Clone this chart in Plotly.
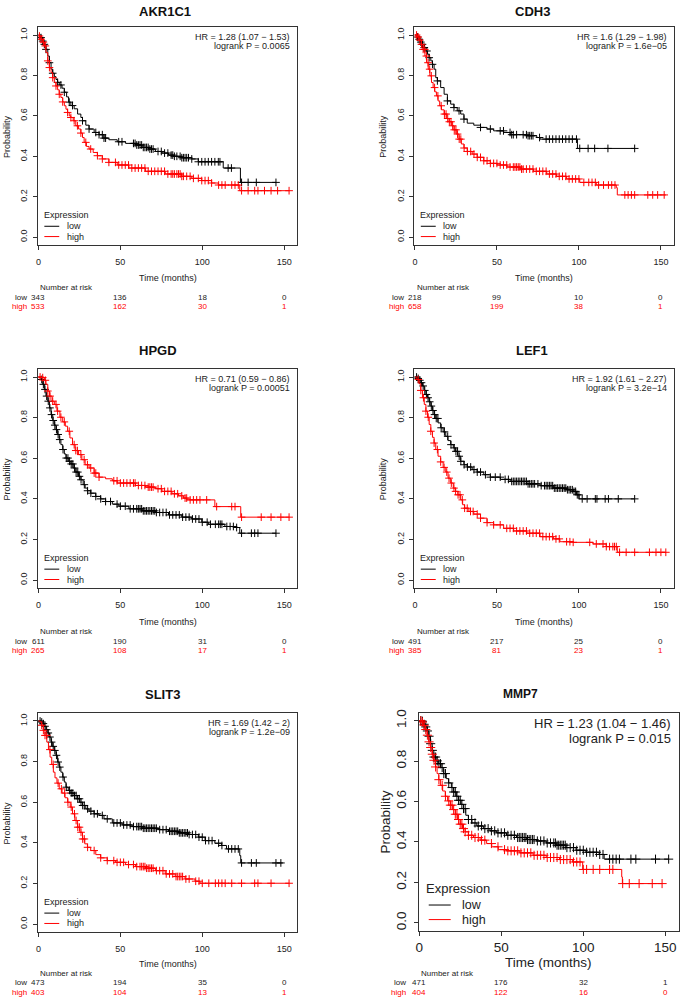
import numpy as np
import plotly.graph_objects as go

W, H = 680, 997
FONT = "Liberation Sans, Arial, sans-serif"
RED = "#ff0000"
BLACK = "#000000"

genes = ["AKR1C1", "CDH3", "HPGD", "LEF1", "SLIT3", "MMP7"]
hr_text = ["HR = 1.28 (1.07 \u2212 1.53)", "HR = 1.6 (1.29 \u2212 1.98)", "HR = 0.71 (0.59 \u2212 0.86)",
           "HR = 1.92 (1.61 \u2212 2.27)", "HR = 1.69 (1.42 \u2212 2)", "HR = 1.23 (1.04 \u2212 1.46)"]
p_text = ["logrank P = 0.0065", "logrank P = 1.6e\u221205", "logrank P = 0.00051",
          "logrank P = 3.2e\u221214", "logrank P = 1.2e\u221209", "logrank P = 0.015"]
risk_times = [0, 50, 100, 150]
risk_low = [[343, 136, 18, 0], [218, 99, 10, 0], [611, 190, 31, 0],
            [491, 217, 25, 0], [473, 194, 35, 0], [471, 176, 32, 1]]
risk_high = [[533, 162, 30, 1], [658, 199, 38, 1], [265, 108, 17, 1],
             [385, 81, 23, 1], [403, 104, 13, 1], [404, 122, 16, 0]]

# ---- Kaplan-Meier step knots (time, survival) ----
akr_low_t = [0, 1.6, 2.6, 3.6, 4.6, 5.7, 6.7, 7.7, 8.7, 9.7, 10.7, 11.7, 12.7, 14.4, 15.8, 17.2, 18.4, 19.8, 21.8, 23.9, 25.9, 26.9, 28.9, 30.9, 34, 37, 40, 43, 48.1, 53.2, 59.2, 63.3, 67.3, 71.4, 75.4, 79.4, 82.5, 87.5, 93.6, 97.6, 112.8, 123.3, 145.1]
akr_low_s = [1, 0.987, 0.970, 0.954, 0.929, 0.896, 0.863, 0.831, 0.811, 0.794, 0.780, 0.766, 0.753, 0.737, 0.717, 0.694, 0.668, 0.651, 0.635, 0.609, 0.592, 0.576, 0.554, 0.535, 0.518, 0.507, 0.490, 0.482, 0.472, 0.464, 0.456, 0.444, 0.436, 0.424, 0.416, 0.406, 0.400, 0.393, 0.387, 0.373, 0.342, 0.271, 0.271]
akr_high_t = [0, 0.6, 1.6, 2.6, 3.6, 4.6, 5.7, 6.7, 7.7, 8.7, 9.7, 10.7, 11.7, 12.7, 13.7, 14.8, 15.8, 16.8, 17.8, 18.8, 19.8, 21.2, 22.8, 24.5, 25.9, 26.9, 27.9, 29.3, 30.9, 33.4, 36, 39, 43, 48.1, 55.2, 65.3, 77.4, 87.5, 93.6, 99.7, 105.7, 109.8, 122.9, 153.2]
akr_high_s = [1, 0.995, 0.979, 0.965, 0.946, 0.913, 0.872, 0.839, 0.814, 0.789, 0.765, 0.748, 0.729, 0.707, 0.691, 0.669, 0.650, 0.633, 0.617, 0.600, 0.592, 0.576, 0.551, 0.535, 0.515, 0.493, 0.469, 0.449, 0.436, 0.419, 0.403, 0.387, 0.370, 0.357, 0.342, 0.326, 0.3125, 0.301, 0.291, 0.280, 0.268, 0.258, 0.230, 0.230]
akr_low_c = [1.6, 2.6, 3.6, 4.6, 6.7, 8.7, 11.7, 13.7, 15.8, 18.8, 20.8, 26.9, 30.9, 35, 37, 39, 40, 41, 49, 51, 58, 59, 60, 61, 62, 63, 64, 65, 66, 67, 68, 69, 70, 73, 75, 77, 79, 81, 82, 83, 84.5, 86.5, 87.5, 88.5, 89.5, 90.5, 91.6, 93.6, 97.6, 99.7, 101.7, 103.7, 105.7, 107.7, 109.8, 110.8, 115.8, 117.8, 124, 128, 133, 145]
akr_high_c = [0.6, 1.6, 3, 4.2, 5.7, 6.7, 8.7, 10.7, 12.7, 14.8, 17.8, 19.8, 21.8, 23.8, 25.9, 28.9, 31.9, 36, 39, 43, 47, 49, 51, 53, 55, 57, 59, 61, 63, 65, 67, 69, 71, 73, 75, 77, 79, 81, 82, 83, 84.5, 85.5, 86.5, 87.5, 88.5, 90.5, 92.6, 94.6, 97.6, 99.7, 101.7, 103.7, 105.7, 110, 112, 114, 118, 120, 122, 124, 128, 132, 134, 138, 142, 146, 153]

cdh_low_t = [0, 1.6, 2.6, 3.6, 4.6, 5.7, 6.7, 7.7, 8.7, 9.7, 10.7, 11.7, 12.7, 13.7, 15.7, 17.8, 19.8, 21.8, 23.8, 25.8, 27.9, 29.9, 31.9, 35.9, 40, 44, 48, 54.1, 58.1, 68.2, 74.3, 76.3, 99.1, 133.9]
cdh_low_s = [1, 0.990, 0.979, 0.965, 0.954, 0.938, 0.921, 0.905, 0.888, 0.872, 0.855, 0.831, 0.789, 0.773, 0.740, 0.707, 0.674, 0.658, 0.641, 0.625, 0.609, 0.584, 0.564, 0.554, 0.543, 0.535, 0.526, 0.518, 0.507, 0.502, 0.493, 0.485, 0.439, 0.439]
cdh_high_t = [0, 1.6, 3, 4, 5, 6.1, 7.1, 8.1, 9.1, 10.1, 11.1, 12.1, 13.1, 14.1, 15.1, 16.2, 17.8, 19.4, 20.8, 22.4, 23.8, 25.2, 26.9, 28.3, 29.9, 31.9, 34.9, 38, 42, 46, 50.1, 56.1, 64.2, 72.3, 80.4, 86.4, 92.5, 100.5, 110.6, 122.8, 123.4, 153]
cdh_high_s = [1, 0.990, 0.975, 0.954, 0.929, 0.896, 0.863, 0.831, 0.798, 0.765, 0.740, 0.719, 0.699, 0.674, 0.650, 0.630, 0.609, 0.587, 0.571, 0.551, 0.531, 0.510, 0.485, 0.461, 0.441, 0.424, 0.411, 0.395, 0.378, 0.365, 0.357, 0.347, 0.337, 0.326, 0.3125, 0.301, 0.288, 0.271, 0.258, 0.245, 0.209, 0.209]
cdh_low_c = [1.6, 2.6, 3.6, 4.6, 5.7, 7.3, 8.7, 10.7, 13.7, 19.8, 23.8, 26.9, 29.9, 40, 46, 52, 54, 58, 59, 60, 62, 66, 68, 69, 70, 71, 72, 76, 80, 82, 84, 86, 88, 90, 92, 94, 96, 98.5, 100.5, 105.6, 109.6, 117.7, 134]
cdh_high_c = [1, 2, 3, 4, 5, 6, 7, 8, 9, 10, 12, 14, 16, 18, 19, 20, 21, 22, 23, 24, 25, 26, 27, 28, 30, 32, 34, 36, 38, 40, 42, 44, 46, 48, 50, 52, 54, 56, 58, 60, 61, 62, 63, 64, 65, 66, 68, 70, 72, 74, 76, 78, 80, 82, 84, 86, 88, 90, 92, 94, 96, 98, 100, 103, 106, 108, 110, 112, 115, 118, 120, 122, 128, 130, 132, 134, 142, 145, 148, 152]

hpgd_low_t = [0, 1.6, 2.6, 3.6, 4.6, 5.7, 6.7, 7.7, 8.7, 9.7, 10.7, 11.7, 12.7, 13.7, 14.8, 15.8, 16.8, 18.2, 19.8, 21.2, 22.8, 24.5, 25.9, 27.3, 28.5, 29.9, 31.9, 35, 38, 41, 45.1, 49.1, 55.2, 63.3, 71.4, 79.4, 87.5, 93.6, 99.7, 103.7, 113.8, 119.9, 122.9, 145.1]
hpgd_low_s = [1, 0.988, 0.964, 0.939, 0.906, 0.881, 0.848, 0.815, 0.786, 0.763, 0.741, 0.717, 0.692, 0.667, 0.643, 0.621, 0.601, 0.585, 0.572, 0.552, 0.532, 0.511, 0.494, 0.470, 0.453, 0.440, 0.428, 0.412, 0.400, 0.387, 0.374, 0.364, 0.351, 0.341, 0.333, 0.321, 0.310, 0.301, 0.285, 0.275, 0.264, 0.259, 0.231, 0.231]
hpgd_high_t = [0, 1.6, 3.6, 4.6, 5.7, 6.7, 8.3, 9.7, 11.3, 13.1, 14.8, 16.4, 17.8, 19.2, 20.8, 22.4, 24.5, 26.5, 28.5, 30.9, 34, 37, 41, 45.1, 48.1, 59.2, 65.3, 71.4, 75.4, 81.5, 85.5, 88.5, 90.6, 107.7, 123.5, 153.2]
hpgd_high_s = [1, 0.997, 0.984, 0.964, 0.931, 0.906, 0.881, 0.865, 0.832, 0.802, 0.779, 0.758, 0.733, 0.700, 0.667, 0.638, 0.618, 0.593, 0.568, 0.552, 0.527, 0.507, 0.499, 0.489, 0.478, 0.466, 0.458, 0.450, 0.437, 0.425, 0.415, 0.404, 0.395, 0.362, 0.310, 0.310]
hpgd_low_c = [2, 3, 4, 5, 6, 7, 8, 9, 10, 11, 12, 13, 15, 17, 18, 19, 20, 21, 22, 23, 24, 25, 26, 28, 30, 32, 35, 38, 41, 44, 48, 50, 53, 56, 58, 60, 61, 62, 63, 64, 65, 66, 67, 68, 69, 70, 71, 72, 74, 76, 78, 80, 82, 84, 86, 88, 90, 92, 94, 96, 98, 100, 103, 105, 108, 110, 111, 112, 115, 117, 119, 121, 124, 130, 132, 134, 145]
hpgd_high_c = [1, 2.6, 4.2, 5.7, 7.1, 8.7, 10.7, 11.7, 13.7, 15.8, 18.8, 21.8, 22.8, 23.8, 25.9, 27.9, 29.9, 31.9, 34, 35, 37, 46, 48, 50, 52, 54, 56, 58, 59, 61, 63, 65, 67, 68, 69, 70, 73, 75, 77, 79, 81, 83, 85, 87.5, 89.5, 90.5, 92.6, 94.6, 96.6, 98.6, 102.7, 108.8, 118, 120, 124, 136, 142, 148, 153]

lef_low_t = [0, 1.6, 2.6, 3.6, 4.6, 5.7, 6.7, 7.7, 8.7, 9.7, 10.7, 11.7, 12.7, 14.1, 15.7, 17.2, 18.8, 20.2, 21.8, 23.4, 24.8, 26.2, 27.9, 29.9, 31.9, 34.9, 38, 42, 46, 52.1, 58.1, 68.2, 76.3, 84.4, 92.5, 96.5, 98.5, 100.1, 133.9]
lef_low_s = [1, 0.993, 0.984, 0.972, 0.956, 0.934, 0.914, 0.898, 0.878, 0.857, 0.835, 0.815, 0.796, 0.774, 0.750, 0.730, 0.708, 0.687, 0.667, 0.651, 0.634, 0.610, 0.585, 0.568, 0.557, 0.544, 0.532, 0.519, 0.507, 0.496, 0.486, 0.474, 0.465, 0.453, 0.445, 0.437, 0.420, 0.400, 0.400]
lef_high_t = [0, 1.2, 2.6, 3.6, 4.6, 5.7, 6.7, 7.7, 8.7, 9.7, 10.7, 11.7, 12.7, 14.1, 15.7, 17.2, 18.8, 20.2, 21.8, 23.4, 24.8, 26.2, 27.9, 29.1, 30.3, 32.9, 35.9, 40, 44, 48, 54.1, 60.2, 68.2, 76.3, 84.4, 88.4, 96.5, 108.6, 116.7, 123.4, 153]
lef_high_s = [1, 0.988, 0.967, 0.934, 0.898, 0.865, 0.832, 0.802, 0.766, 0.733, 0.703, 0.675, 0.643, 0.610, 0.582, 0.555, 0.532, 0.502, 0.478, 0.453, 0.437, 0.420, 0.395, 0.371, 0.354, 0.338, 0.325, 0.305, 0.283, 0.272, 0.255, 0.242, 0.231, 0.214, 0.203, 0.189, 0.186, 0.178, 0.165, 0.137, 0.137]
lef_low_c = [1, 2, 3, 4, 5, 6, 7, 8, 9, 10, 11, 12, 13, 14, 16, 18, 20, 22, 24, 25, 26, 27, 28, 30, 32, 34, 36, 38, 40, 43, 46, 49, 52, 55, 57, 59, 60, 61, 62, 63, 64, 65, 66, 67, 68, 69, 70, 71, 72, 73, 75, 77, 79, 80, 81, 82, 83, 84, 85, 86, 87, 88, 89, 90, 91, 92, 93, 94, 95, 96, 97, 98, 99, 100, 102, 105, 110, 111, 116, 118, 124, 134]
lef_high_c = [2, 3.6, 5.2, 6.7, 8.1, 9.7, 11.7, 13.7, 15.7, 17.8, 19.4, 20.8, 22.2, 23.8, 24.8, 26.3, 27.5, 28.9, 30.3, 31.9, 33.9, 35.5, 38, 40, 44, 48, 52, 56, 58, 60, 62, 64, 66, 68, 70, 72, 74, 76, 78, 80, 82, 84, 86, 88, 92.5, 94.5, 96.5, 106.6, 110.6, 114.7, 116.7, 118.7, 120.7, 121.7, 122.8, 124.8, 128.8, 134, 143, 147, 150, 153]

slit_low_t = [0, 1.6, 2.6, 3.6, 4.6, 5.7, 6.7, 7.7, 8.7, 9.7, 10.7, 11.7, 12.7, 13.7, 14.8, 15.8, 16.8, 18.2, 19.8, 21.8, 23.9, 25.3, 26.9, 28.9, 30.9, 34, 37, 40, 45.1, 51.1, 57.2, 63.3, 73.4, 79.4, 85.5, 91.6, 97.6, 101.7, 107.7, 111.8, 114.8, 122.9, 123.5, 149.2]
slit_low_s = [1, 0.995, 0.987, 0.974, 0.957, 0.941, 0.921, 0.896, 0.875, 0.855, 0.831, 0.798, 0.773, 0.748, 0.724, 0.699, 0.674, 0.658, 0.645, 0.633, 0.617, 0.600, 0.584, 0.567, 0.556, 0.543, 0.535, 0.518, 0.498, 0.488, 0.480, 0.472, 0.465, 0.457, 0.449, 0.441, 0.428, 0.411, 0.398, 0.387, 0.370, 0.337, 0.301, 0.301]
slit_high_t = [0, 1, 2, 3, 4, 5.1, 6.1, 7.1, 8.1, 9.1, 10.1, 11.3, 12.7, 14.4, 16.2, 17.8, 19.4, 20.8, 22.2, 23.9, 25.3, 26.9, 28.3, 29.9, 31.9, 35, 38, 42, 47.1, 53.2, 59.2, 65.3, 71.4, 77.4, 83.5, 89.5, 95.6, 98.6, 153.2]
slit_high_s = [1, 0.995, 0.979, 0.954, 0.929, 0.896, 0.859, 0.822, 0.786, 0.748, 0.720, 0.694, 0.666, 0.645, 0.622, 0.600, 0.576, 0.543, 0.510, 0.477, 0.452, 0.419, 0.395, 0.378, 0.362, 0.342, 0.326, 0.3125, 0.304, 0.293, 0.283, 0.275, 0.263, 0.247, 0.234, 0.222, 0.211, 0.201, 0.201]
slit_low_c = [1, 2, 3, 4, 5, 6, 7, 8, 9, 10, 11, 12, 13, 15, 17, 19, 20, 21, 22, 23, 24, 25, 26, 27, 28, 30, 32, 34, 36, 39, 42, 46, 48, 50, 52, 54, 56, 58, 60, 61, 62, 63, 64, 65, 66, 67, 68, 69, 70, 71, 72, 74, 76, 78, 80, 81, 82, 83, 84, 85, 86, 87, 88, 89, 90, 91, 92, 94, 96, 98, 100, 102, 104, 106, 110, 112, 116, 118, 120, 122, 124, 130, 133, 145, 148]
slit_high_c = [2, 3, 4, 5, 7, 9, 12, 14, 16, 18, 20, 22, 23, 24, 25, 26, 27, 28, 30, 34, 38, 42, 46, 48, 50, 52, 55, 58, 60, 62, 63, 64, 65, 66, 67, 68, 69, 70, 72, 74, 76, 78, 80, 82, 84, 85, 86, 87, 88, 90, 92, 96, 98, 100, 104, 108, 110, 112, 114, 118, 124, 132, 134, 142, 153]

mmp_low_t = [0, 1.6, 2.8, 3.8, 4.8, 5.8, 6.9, 7.9, 8.9, 10.3, 11.9, 13.3, 14.9, 16.5, 17.9, 19.6, 21, 22.6, 24, 25.4, 27, 28.4, 30, 32.1, 35.1, 39.1, 43.1, 47.2, 53.2, 59.3, 65.3, 71.4, 77.4, 83.5, 89.5, 95.6, 101.6, 109.7, 112.7, 152]
mmp_low_s = [1, 0.997, 0.982, 0.969, 0.949, 0.923, 0.886, 0.853, 0.820, 0.801, 0.787, 0.768, 0.738, 0.713, 0.692, 0.669, 0.647, 0.626, 0.606, 0.586, 0.565, 0.532, 0.511, 0.494, 0.479, 0.466, 0.455, 0.445, 0.433, 0.422, 0.412, 0.405, 0.395, 0.384, 0.372, 0.359, 0.349, 0.338, 0.315, 0.315]
mmp_high_t = [0, 1.6, 2.8, 3.8, 4.8, 5.8, 6.9, 7.9, 8.9, 9.9, 10.9, 11.9, 12.9, 14.3, 15.9, 17.3, 19, 20.4, 22, 23.4, 25, 26.4, 28, 30, 33.1, 37.1, 41.1, 44.2, 48.2, 53.2, 61.3, 69.4, 77.4, 85.5, 93.5, 99.6, 123.4, 123.8, 148]
mmp_high_s = [1, 0.993, 0.977, 0.956, 0.928, 0.895, 0.867, 0.834, 0.804, 0.771, 0.738, 0.708, 0.680, 0.652, 0.626, 0.603, 0.582, 0.560, 0.537, 0.511, 0.488, 0.466, 0.450, 0.433, 0.422, 0.409, 0.392, 0.376, 0.362, 0.356, 0.346, 0.334, 0.323, 0.313, 0.301, 0.264, 0.227, 0.194, 0.194]
mmp_low_c = [1, 2, 3, 4, 5, 6, 7, 8, 9, 10, 11, 12, 13, 14, 15, 16, 18, 20, 21, 22, 23, 24, 25, 26, 27, 28, 30, 32, 34, 36, 38, 40, 42, 44, 46, 48, 50, 52, 54, 56, 58, 60, 61, 62, 63, 64, 65, 66, 67, 68, 69, 70, 72, 74, 76, 78, 80, 82, 83, 84, 85, 86, 87, 88, 89, 90, 92, 94, 96, 98, 100, 102, 104, 106, 108, 110, 112, 116, 118, 120, 122, 129, 132, 144, 152]
mmp_high_c = [1, 2, 3, 4, 5, 6, 7, 8, 9, 10, 12, 14, 16, 18, 19, 20, 21, 22, 23, 24, 25, 26, 27, 28, 30, 32, 34, 36, 38, 40, 44, 48, 52, 54, 56, 58, 60, 62, 64, 66, 68, 70, 72, 74, 76, 78, 80, 82, 84, 86, 88, 90, 92, 94, 96, 98, 100, 102, 106, 110, 116, 118, 124, 128, 134, 142, 148]

curves = [
    (akr_low_t, akr_low_s, akr_low_c, akr_high_t, akr_high_s, akr_high_c),
    (cdh_low_t, cdh_low_s, cdh_low_c, cdh_high_t, cdh_high_s, cdh_high_c),
    (hpgd_low_t, hpgd_low_s, hpgd_low_c, hpgd_high_t, hpgd_high_s, hpgd_high_c),
    (lef_low_t, lef_low_s, lef_low_c, lef_high_t, lef_high_s, lef_high_c),
    (slit_low_t, slit_low_s, slit_low_c, slit_high_t, slit_high_s, slit_high_c),
    (mmp_low_t, mmp_low_s, mmp_low_c, mmp_high_t, mmp_high_s, mmp_high_c),
]

# ---- layout geometry (pixels) ----
# box: (left, right, top, bottom)
boxes = [(35, 296, 24, 243), (413.7, 675, 24, 243),
         (35, 296, 367, 587), (413.7, 675, 367, 587),
         (35, 296, 712, 932), (418, 679.5, 711.7, 930.7)]
title_pos = [(163, 9), (533, 9), (156, 348.3), (532, 348.3), (160, 693.3), (521, 693.3)]
prob_x = [4, 382, 4, 382, 4, 385]
time_y = [276, 276, 621, 621, 964.3, 962.5]
risk_y = [(285.7, 295, 304.3), (285.7, 295, 304.3), (630.7, 640, 649.3),
          (630.7, 640, 649.3), (973.7, 982.7, 992), (973.3, 982.5, 992)]

def px(x):
    return x / W

def py(y):
    return 1 - y / H

def step_value(t_knots, s_knots, t):
    idx = np.searchsorted(np.asarray(t_knots), t, side="right") - 1
    return np.asarray(s_knots)[np.clip(idx, 0, len(s_knots) - 1)]

fig = go.Figure()
annotations = []
shapes = []
layout = {}

for i in range(6):
    big = (i == 5)
    n = i + 1
    xa = "x" if n == 1 else f"x{n}"
    ya = "y" if n == 1 else f"y{n}"
    l, r, t, b = boxes[i]
    tick_fs = 13.5 if big else 9
    lab_fs = 13.5 if big else 9
    txt_fs = 13 if big else 9
    leg_fs = 12.5 if big else 9
    small_fs = 8

    lt, ls, lc, ht, hs, hc = curves[i]
    for tt, ss, cc, col in ((lt, ls, lc, BLACK), (ht, hs, hc, RED)):
        fig.add_trace(go.Scatter(x=tt, y=ss, mode="lines", line=dict(color=col, width=1, shape="hv"),
                                 xaxis=xa, yaxis=ya, showlegend=False, hoverinfo="skip"))
        cy = step_value(tt, ss, np.asarray(cc, dtype=float))
        fig.add_trace(go.Scatter(x=cc, y=cy, mode="markers",
                                 marker=dict(symbol="cross-thin", size=5.5 if not big else 6.5,
                                             line=dict(color=col, width=1), color=col),
                                 xaxis=xa, yaxis=ya, showlegend=False, hoverinfo="skip"))

    axis_common = dict(showline=True, mirror=True, linecolor="#333333", linewidth=1,
                       ticks="outside", ticklen=4, tickcolor="#333333",
                       showgrid=False, zeroline=False,
                       tickfont=dict(family=FONT, size=tick_fs, color="#222222"))
    layout["xaxis" if n == 1 else f"xaxis{n}"] = dict(
        domain=[px(l), px(r)], anchor=ya, range=[-0.4, 158],
        tickvals=risk_times, ticktext=[str(v) for v in risk_times],
        ticklabelstandoff=4 if not big else 0, **axis_common)
    layout["yaxis" if n == 1 else f"yaxis{n}"] = dict(
        domain=[py(b), py(t)], anchor=xa, range=[-0.04, 1.04],
        tickvals=[0, 0.2, 0.4, 0.6, 0.8, 1.0], ticktext=["0.0", "0.2", "0.4", "0.6", "0.8", "1.0"],
        tickangle=-90, ticklabelstandoff=2, **axis_common)

    # title
    tx, tyy = title_pos[i]
    annotations.append(dict(x=px(tx), y=py(tyy), xref="paper", yref="paper", text=f"<b>{genes[i]}</b>",
                            showarrow=False, xanchor="center", yanchor="middle",
                            font=dict(family=FONT, size=12 if big else 13, color="#111111")))
    # axis labels
    annotations.append(dict(x=px(prob_x[i]), y=py((t + b) / 2),
                            xref="paper", yref="paper", text="Probability",
                            textangle=-90, showarrow=False, xanchor="center", yanchor="middle",
                            font=dict(family=FONT, size=lab_fs, color="#222222")))
    annotations.append(dict(x=px((l + r) / 2), y=py(time_y[i]), xref="paper", yref="paper",
                            text="Time (months)", showarrow=False, xanchor="center", yanchor="middle",
                            font=dict(family=FONT, size=lab_fs, color="#222222")))
    # HR & p
    hr_x = 154.6 if big else 155
    hr_y = (0.985, 0.911) if big else (0.99, 0.945)
    for txt, yv in zip((hr_text[i], p_text[i]), hr_y):
        annotations.append(dict(x=hr_x, y=yv, xref=xa, yref=ya, text=txt, showarrow=False,
                                xanchor="right", yanchor="middle",
                                font=dict(family=FONT, size=txt_fs, color="#222222")))
    # legend
    if big:
        ex, ey, lx0, lx1, tx_l, y_low, y_high = 3.8, 0.168, 5.8, 19.2, 25.2, 0.088, 0.016
    else:
        ex, ey, lx0, lx1, tx_l, y_low, y_high = 2.6, 0.11, 3.6, 12.7, 16.8, 0.054, 0.003
    annotations.append(dict(x=ex, y=ey, xref=xa, yref=ya, text="Expression", showarrow=False,
                            xanchor="left", yanchor="middle", xshift=-1,
                            font=dict(family=FONT, size=txt_fs, color="#222222")))
    for lab, yv, col in (("low", y_low, BLACK), ("high", y_high, RED)):
        shapes.append(dict(type="line", xref=xa, yref=ya, x0=lx0, x1=lx1, y0=yv, y1=yv,
                           line=dict(color=col, width=1)))
        annotations.append(dict(x=tx_l, y=yv, xref=xa, yref=ya, text=lab, showarrow=False,
                                xanchor="left", yanchor="middle", xshift=-1,
                                font=dict(family=FONT, size=leg_fs, color="#222222")))
    # number at risk table
    ny, lowy, highy = risk_y[i]
    annotations.append(dict(x=0, y=py(ny), xref=xa, yref="paper", text="Number at risk", showarrow=False,
                            xanchor="left", yanchor="middle",
                            font=dict(family=FONT, size=small_fs, color="#222222")))
    shift = -11 if big else -9
    for lab, vals, yy, col in (("low", risk_low[i], lowy, "#222222"), ("high", risk_high[i], highy, RED)):
        annotations.append(dict(x=0, y=py(yy), xref=xa, yref="paper", text=lab, showarrow=False,
                                xanchor="right", yanchor="middle", xshift=shift,
                                font=dict(family=FONT, size=small_fs, color=col)))
        for tv, v in zip(risk_times, vals):
            annotations.append(dict(x=tv, y=py(yy), xref=xa, yref="paper", text=str(v), showarrow=False,
                                    xanchor="center", yanchor="middle",
                                    font=dict(family=FONT, size=small_fs, color=col)))

fig.update_layout(width=W, height=H, margin=dict(l=0, r=0, t=0, b=0),
                  paper_bgcolor="white", plot_bgcolor="white", showlegend=False,
                  annotations=annotations, shapes=shapes, **layout)
fig.write_html("out.html", config={"displayModeBar": False},
               post_script="document.body.style.margin='0';document.body.style.padding='0';"
                           "document.body.style.overflow='hidden';")
